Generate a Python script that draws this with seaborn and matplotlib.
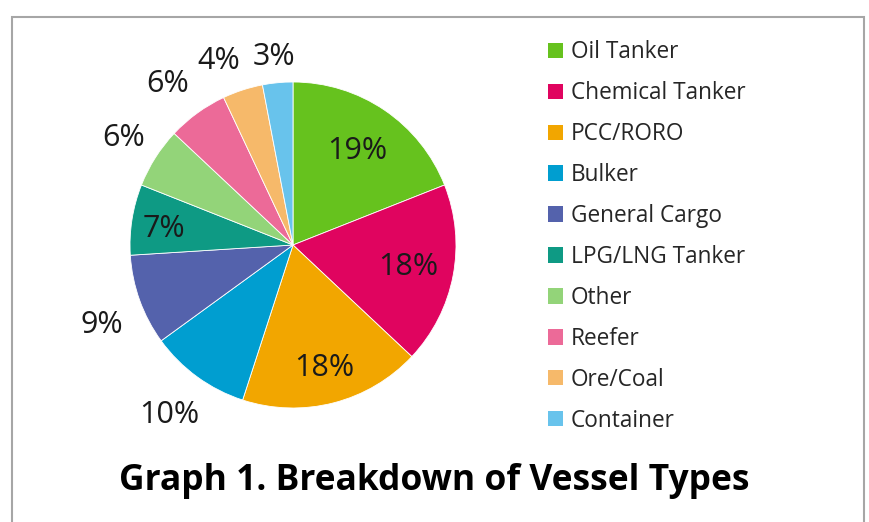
import seaborn as sns
import matplotlib.pyplot as plt
import matplotlib.patches as mpatches
import numpy as np

## ____data
vessel_types = ["Oil Tanker", "Chemical Tanker", "PCC/RORO", "Bulker", "General Cargo",
                "LPG/LNG Tanker", "Other", "Reefer", "Ore/Coal", "Container"]
shares = [19, 18, 18, 10, 9, 7, 6, 6, 4, 3]

colors = ["#66C21E", "#E0045F", "#F2A600", "#009ED0", "#5462AC",
          "#0E9A84", "#93D479", "#EC6A98", "#F6B96A", "#68C3EC"]
# placement of each percent label (Excel "best fit" look): radius factor, angle nudge in deg
label_dist = [0.70, 0.72, 0.78, 1.29, 1.27, 0.80, 1.23, 1.25, 1.22, 1.16]
label_nudge = [0, 0, 0, 0, 3, 2, 0, 2, 4, 0.5]

sns.set_theme(style="white")
plt.rcParams["font.family"] = ["Open Sans", "DejaVu Sans"]

fig = plt.figure(figsize=(8.69, 5.22), dpi=100)
fig.patch.set_facecolor("white")

# grey frame round the chart
fig.add_artist(mpatches.Rectangle((12 / 869, -0.05), 852 / 869, 1.05 - 17 / 522,
                                  transform=fig.transFigure, fill=False,
                                  edgecolor="#A6A6A6", linewidth=1.5))

ax = fig.add_axes([130 / 869, (522 - 408) / 522, 326 / 869, 326 / 522])
wedges, _ = ax.pie(shares, colors=sns.color_palette(colors), startangle=90,
                   counterclock=False,
                   wedgeprops=dict(edgecolor="white", linewidth=0.6))
ax.set_xlim(-1, 1)
ax.set_ylim(-1, 1)
ax.set_aspect("equal")

## ____percent labels
for w, val, d, nudge in zip(wedges, shares, label_dist, label_nudge):
    mid = np.deg2rad((w.theta1 + w.theta2) / 2 + nudge)
    ax.text(d * np.cos(mid), d * np.sin(mid), f"{val}%", ha="center", va="center",
            fontsize=22, color="#1a1a1a", family=["Open Sans", "DejaVu Sans"],
            clip_on=False)

## ____legend
handles = [mpatches.Patch(facecolor=c, edgecolor="none") for c in colors]
fig.legend(handles, vessel_types, loc="upper left", bbox_to_anchor=(539 / 869, 1 - 31 / 522),
           frameon=False, fontsize=16.3, handlelength=0.65, handleheight=0.65,
           handletextpad=0.35, labelspacing=0.75, borderaxespad=0, labelcolor="#262626")

fig.text(0.5, 1 - 481 / 522, "Graph 1. Breakdown of Vessel Types", ha="center", va="center",
         fontsize=25.5, fontweight="bold", color="black")

plt.savefig("out.png", dpi=100)
